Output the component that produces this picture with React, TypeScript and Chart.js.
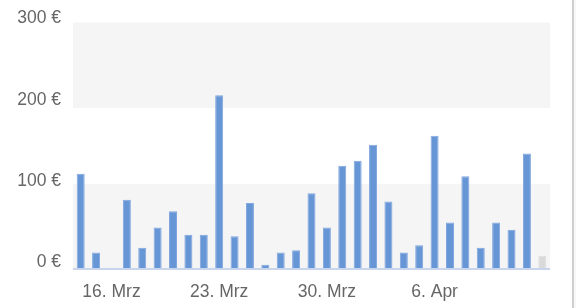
import React, { useEffect, useRef } from "react";
import { Chart, registerables } from "chart.js";

Chart.register(...registerables);

const categories = [
  "14. Mrz", "15. Mrz", "16. Mrz", "17. Mrz", "18. Mrz", "19. Mrz", "20. Mrz",
  "21. Mrz", "22. Mrz", "23. Mrz", "24. Mrz", "25. Mrz", "26. Mrz", "27. Mrz",
  "28. Mrz", "29. Mrz", "30. Mrz", "31. Mrz", "1. Apr", "2. Apr", "3. Apr",
  "4. Apr", "5. Apr", "6. Apr", "7. Apr", "8. Apr", "9. Apr", "10. Apr",
  "11. Apr", "12. Apr", "13. Apr",
];

const revenue = [
  116, 19, 0, 84, 25, 50, 70, 41, 41, 213, 39, 80, 4, 19,
  22, 92, 50, 126, 132, 152, 82, 19, 28, 163, 56, 113, 25, 56, 47, 141, 15,
];

// the last day is still running (drawn grey)
const partialFromIndex = 30;

const shownTickLabels = ["16. Mrz", "23. Mrz", "30. Mrz", "6. Apr"];
const yTicks = [0, 100, 200, 300];
const yMax = 302.5;

const bandsPlugin = {
  id: "bands",
  beforeDatasetsDraw(chart: any) {
    const { ctx, chartArea } = chart;
    const y = chart.scales.y;
    ctx.save();
    ctx.fillStyle = "#f5f5f5";
    const bandRanges = [
      [yMax, 197],
      [103.5, 0],
    ];
    for (const [hi, lo] of bandRanges) {
      const top = y.getPixelForValue(hi);
      const bottom = y.getPixelForValue(lo);
      ctx.fillRect(chartArea.left, top, chartArea.right - chartArea.left, bottom - top);
    }
    ctx.restore();
  },
  afterDatasetsDraw(chart: any) {
    const { ctx, chartArea } = chart;
    const y0 = chart.scales.y.getPixelForValue(0);
    ctx.save();
    ctx.fillStyle = "#c9d5ec";
    ctx.fillRect(chartArea.left, y0, chartArea.right - chartArea.left, 2);
    ctx.restore();
  },
};

export default function App() {
  const canvasRef = useRef<HTMLCanvasElement | null>(null);

  useEffect(() => {
    const canvas = canvasRef.current;
    if (!canvas) return;
    const colors = revenue.map((_, i) => (i >= partialFromIndex ? "#d9d9d9" : "#6796d6"));
    const borders = revenue.map((_, i) => (i >= partialFromIndex ? "#dedede" : "#80a6de"));
    const chart = new Chart(canvas, {
      type: "bar",
      data: {
        labels: categories,
        datasets: [
          {
            data: revenue,
            backgroundColor: colors,
            borderColor: borders,
            borderWidth: 1,
            barPercentage: 0.52,
            categoryPercentage: 1,
          },
        ],
      },
      options: {
        animation: false,
        responsive: false,
        maintainAspectRatio: false,
        layout: { padding: { top: 22, right: 26, bottom: 0, left: 0 } },
        plugins: { legend: { display: false }, tooltip: { enabled: false } },
        scales: {
          x: {
            grid: { display: false, drawTicks: false },
            border: { display: false },
            afterFit: (s: any) => {
              s.height = 40;
            },
            ticks: {
              autoSkip: false,
              maxRotation: 0,
              padding: 14,
              color: "#666666",
              font: { family: "'Liberation Sans', Arial, sans-serif", size: 17.5 },
              callback: function (this: any, value: any, index: number) {
                const label = categories[index];
                return shownTickLabels.includes(label) ? label : "";
              },
            },
          },
          y: {
            min: 0,
            max: yMax,
            grid: { display: false, drawTicks: false },
            border: { display: false },
            afterFit: (s: any) => {
              s.width = 73;
            },
            afterBuildTicks: (s: any) => {
              s.ticks = yTicks.map((v) => ({ value: v }));
            },
            ticks: {
              padding: 12,
              labelOffset: -6,
              color: "#666666",
              font: { family: "'Liberation Sans', Arial, sans-serif", size: 17.5 },
              callback: (v: any) => `${v} €`,
            },
          },
        },
      },
      plugins: [bandsPlugin],
    });
    return () => chart.destroy();
  }, []);

  return (
    <div style={{ position: "fixed", left: 0, top: 0, width: 576, height: 308, background: "#ffffff" }}>
      <canvas ref={canvasRef} width={576} height={308} style={{ display: "block" }} />
      <div style={{ position: "absolute", left: 572, top: 0, width: 2, height: 308, background: "#d0d0d0" }} />
      <div style={{ position: "absolute", left: 574, top: 0, width: 2, height: 308, background: "#f8f8f8" }} />
    </div>
  );
}
